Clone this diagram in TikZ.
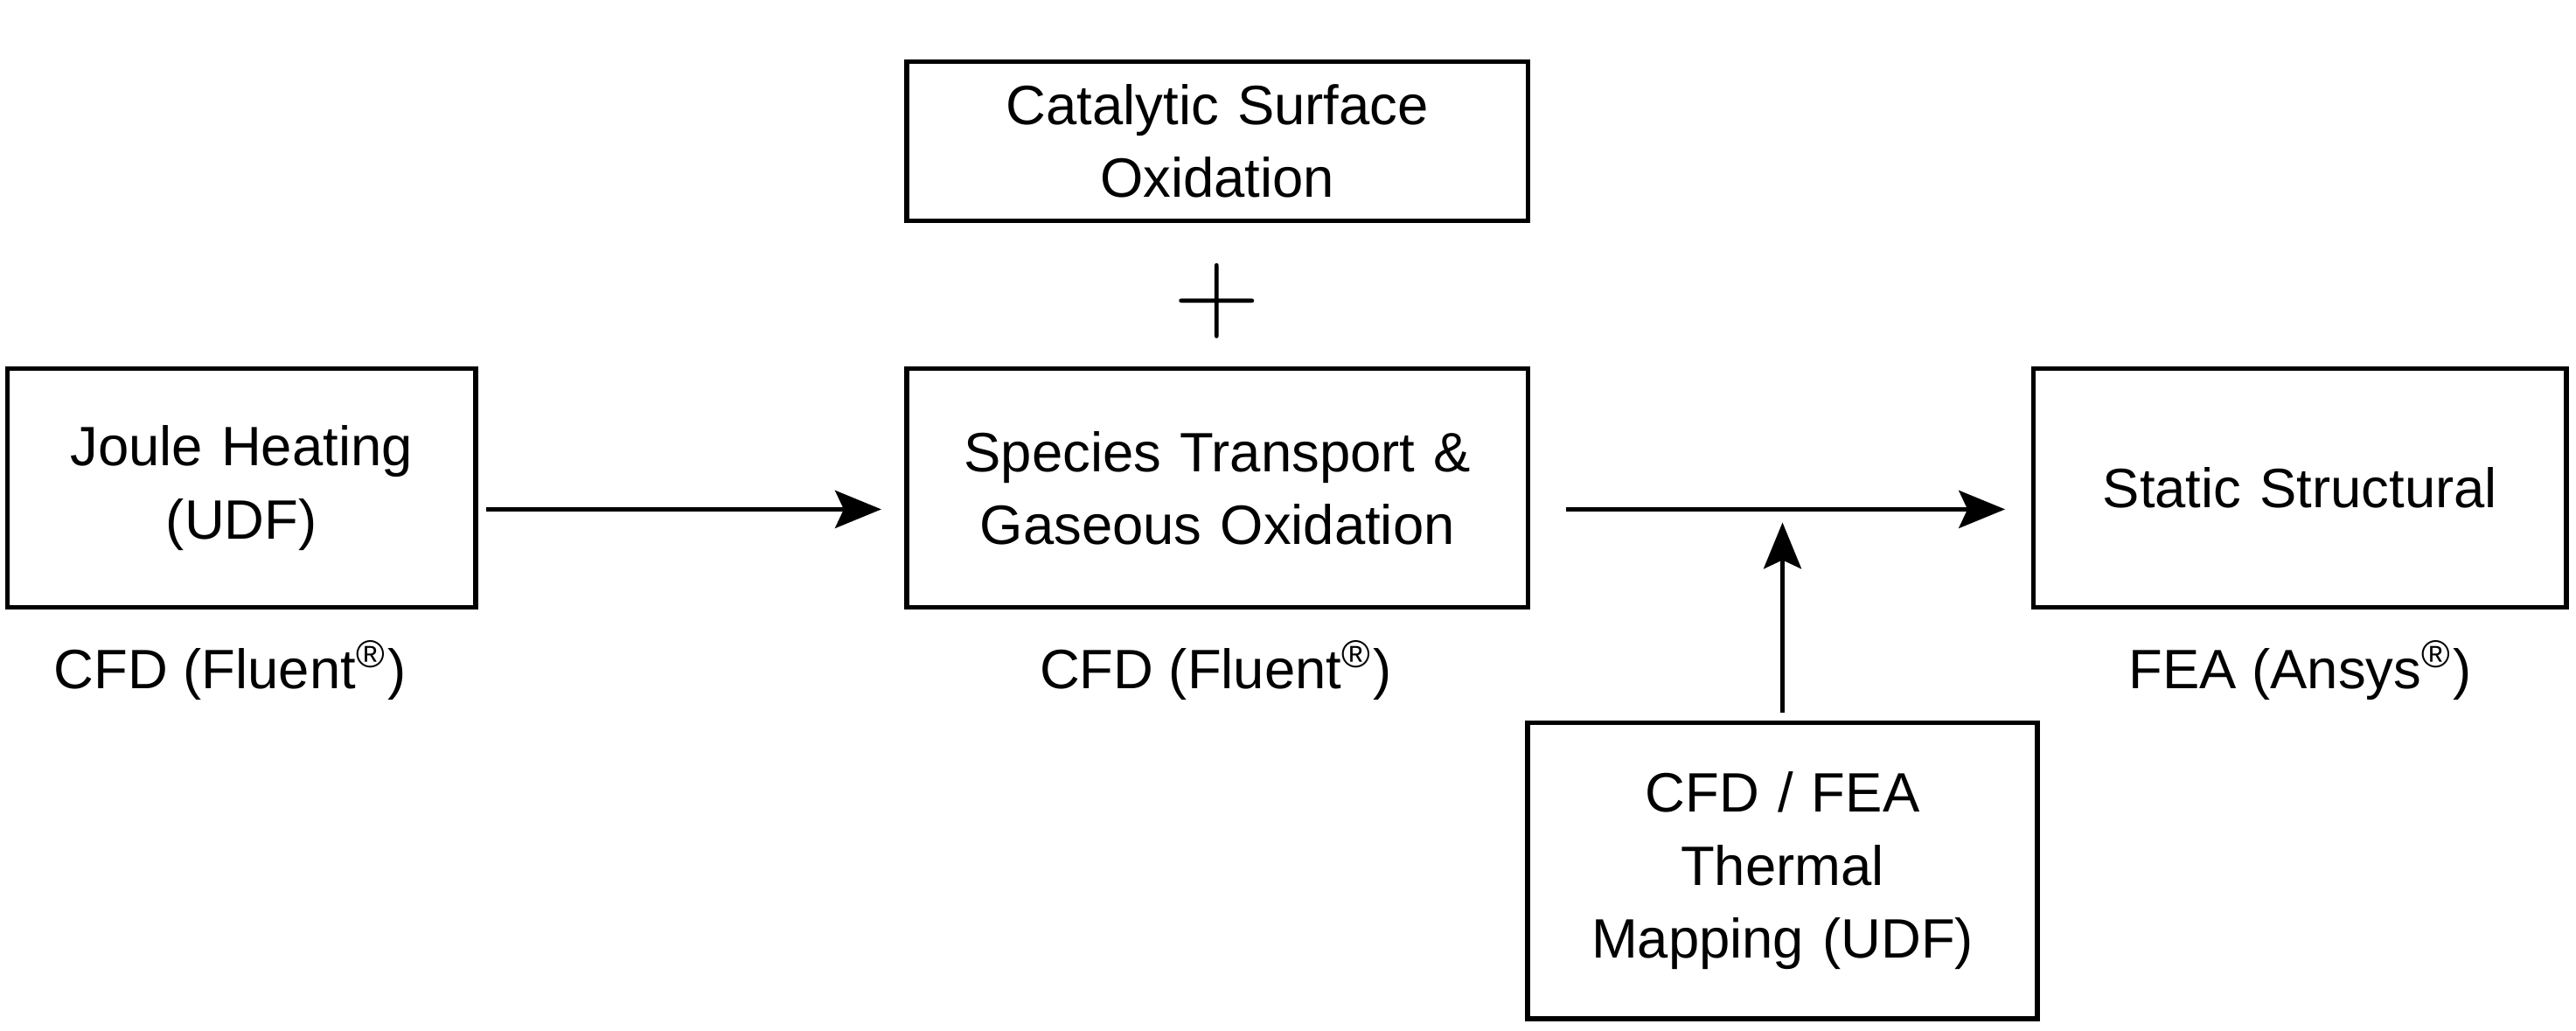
\documentclass[tikz,border=0pt]{standalone}
\usepackage{fontspec}
\setmainfont{Liberation Sans}
\usetikzlibrary{positioning,calc,arrows.meta}

\begin{document}
\begin{tikzpicture}[x=0.01cm, y=-0.01cm, thick,
    box/.style={draw, align=center, font=\fontsize{9.6}{12.6}\selectfont, inner sep=0pt},
    lbl/.style={font=\fontsize{9.6}{12}\selectfont},
    arr/.style={-{Stealth[length=8pt,width=6.5pt,inset=1.5pt]}}]
    \useasboundingbox (0,0) rectangle (1568,627.5);
    % Blocks
    \node[box, text width=2.6cm, minimum width=2.85cm, minimum height=1.45cm] (joule) at (147,297) {Joule Heating\\(UDF)};
    \node[box, text width=3.6cm, minimum width=3.78cm, minimum height=0.97cm] (cat) at (741,86) {Catalytic Surface\\Oxidation};
    \node[box, text width=3.6cm, minimum width=3.78cm, minimum height=1.45cm] (spec) at (741,297) {Species Transport \&\\Gaseous Oxidation};
    \node[box, text width=3.1cm, minimum width=3.24cm, minimum height=1.45cm] (stat) at (1400,297) {Static Structural};
    \node[box, text width=3.0cm, minimum width=3.1cm, minimum height=1.8cm] (map) at (1085,530) {CFD / FEA\\Thermal\\Mapping (UDF)};
    \node[font=\fontsize{20}{20}\selectfont] (plus) at (741,183) {$+$};
    % Labels
    \node[lbl] (l1) at (140,408) {CFD (Fluent\textsuperscript{\textregistered})};
    \node[lbl] (l2) at (740,408) {CFD (Fluent\textsuperscript{\textregistered})};
    \node[lbl] (l3) at (1400,408) {FEA (Ansys\textsuperscript{\textregistered})};
    % Connections
    \draw[arr] ($(joule.east)+(5,13)$) -- ($(spec.west)+(-14,13)$);
    \draw[arr] ($(spec.east)+(22,13)$) -- ($(stat.west)+(-16,13)$);
    \draw[arr] ($(map.north)+(0,-5)$) -- ($(stat.west -| map.north)+(0,21)$);
\end{tikzpicture}
\end{document}
